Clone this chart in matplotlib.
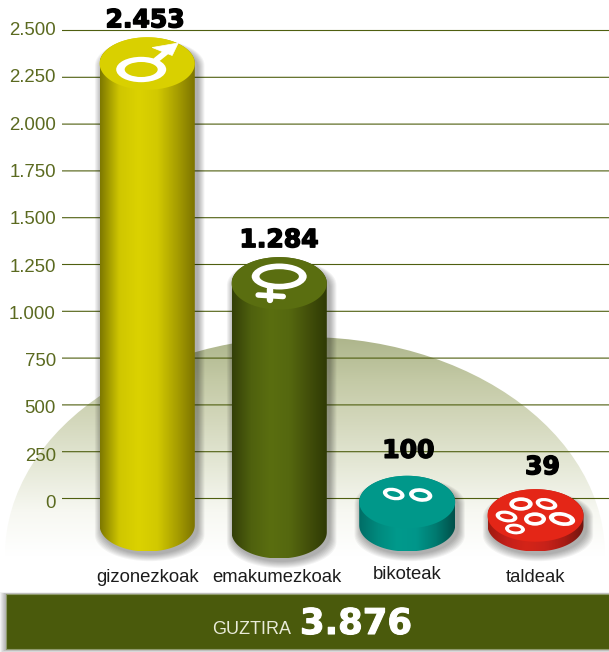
'''
  Bar chart drawn as 3D cylinders, on a faded dome.
'''
import numpy as np
import matplotlib
matplotlib.use("Agg")
import matplotlib.pyplot as plt
import matplotlib.patheffects as pe
from matplotlib.colors import LinearSegmentedColormap
from matplotlib.patches import Ellipse, PathPatch, Rectangle, Polygon
from matplotlib.path import Path
from matplotlib.transforms import Affine2D

categories = ["gizonezkoak", "emakumezkoak", "bikoteak", "taldeak"]
values = [2453, 1284, 100, 39]
yticks = [0, 250, 500, 750, 1000, 1250, 1500, 1750, 2000, 2250, 2500]
total_label = "GUZTIRA"

# layout, in pixels of the picture
W, H = 609, 652
Y0, YTOP = 498.5, 30.5
centers = [147.2, 279.2, 407.2, 535.5]
half_w = [47.6, 47.6, 48, 48]
top_nudge = [-2, -1, -4, -2]
bottoms = [551.5, 558.5, 551.5, 551.5]
cap_h = 52.5
label_x = [145, 279, 408.5, 542.5]
label_gap = [10, 10, 18, 15]
cat_x = [147.5, 276.5, 407, 536]
cat_base = [582, 582, 579, 582]

top_colors = ["#d9d000", "#5a6e10", "#00988a", "#e42617"]
side_colors = [
  ["#7d7800", "#cfc600", "#dbd200", "#d2c900", "#a89f00", "#7a7200"],
  ["#333f08", "#4f610e", "#5a6e10", "#55680f", "#424f0a", "#2e3905"],
  ["#006d66", "#008a7e", "#009a8c", "#00968a", "#007a70", "#00504a"],
  ["#a01a10", "#c4201a", "#d42418", "#c8221a", "#a81c14", "#701510"],
]
grid_color = "#4f5f10"
tick_color = "#5b6a20"

plt.rcParams['font.family'] = ['Liberation Sans', 'DejaVu Sans']


def dotted(v):
  return f"{v:,}".replace(",", ".")


def arc(cx, cy, rx, ry, a0, a1, n=60):
  t = np.linspace(a0, a1, n)
  return np.column_stack([cx + rx * np.cos(t), cy + ry * np.sin(t)])


def ellipse_path(cx, cy, rx, ry):
  return Path(arc(cx, cy, rx, ry, 0, 2 * np.pi, 120), closed=True)


def body_path(cx, rx, top, bottom, ry):
  # top half of the upper ellipse, then the lower half of the bottom one
  up = arc(cx, top + ry, rx, ry, np.pi, 2 * np.pi)
  low = arc(cx, bottom - ry, rx, ry, 0, np.pi)
  return Path(np.vstack([up, low, up[:1]]), closed=True)


def gradient(ax, px, colors, extent, horizontal, clip, zorder):
  cmap = LinearSegmentedColormap.from_list("g", colors)
  ramp = np.linspace(0, 1, 256)
  ramp = ramp[None, :] if horizontal else ramp[:, None]
  im = ax.imshow(ramp, cmap=cmap, extent=extent, origin="lower",
                 aspect="auto", zorder=zorder, interpolation="bilinear")
  im.set_transform(px)
  im.set_clip_path(clip, px)
  return im


def ring(ax, px, x, y, rx, ry, irx, iry, hole, angle=0):
  # white ellipse with a hole in the colour of the cap, strokes are uneven like the original
  ax.add_patch(Ellipse((x, y), 2 * rx, 2 * ry, angle=angle, fc="white", ec="none",
                       transform=px, zorder=6))
  ax.add_patch(Ellipse((x, y), 2 * irx, 2 * iry, angle=angle, fc=hole, ec="none",
                       transform=px, zorder=6.1))


def white_line(ax, px, xs, ys, lw):
  ax.plot(xs, ys, color="white", lw=lw, transform=px, zorder=6,
          solid_capstyle="round")


fig = plt.figure(figsize=(W / 100, H / 100), dpi=100)
ax = fig.add_axes([0, 0, 1, 1])
ax.set_facecolor("white")
for s in ax.spines.values():
  s.set_visible(False)

scale = (Y0 - YTOP) / yticks[-1]
ax.set_xlim(0, W)
ax.set_ylim((Y0 - H) / scale, Y0 / scale)
ax.set_autoscale_on(False)
ax.set_xticks([])

# picture pixels (y going down) to display
px = Affine2D().scale(1, -1).translate(0, H)

# dome
dome = ellipse_path(305, 555, 300, 218)
gradient(ax, px, ["#adb58b", "#c4caa6", "#d5d9be", "#e6e9d8", "#f7f8f2", "#ffffff"],
         (0, W, 337, 556), False, dome, 1)

# grid and ticks
lines = ax.hlines(yticks, 62, W, colors=grid_color, lw=0.8, zorder=1.5)
lines.set_snap(False)
ax.set_yticks(yticks)
ax.set_yticklabels([dotted(v) for v in yticks])
ax.tick_params(axis="y", length=0, pad=-40.3, labelsize=13.4, labelcolor=tick_color)
for v, lab in zip(yticks, ax.get_yticklabels()):
  lab.set_transform(lab.get_transform() + Affine2D().translate(0, -3 + 5 * v / yticks[-1]))

# cylinders
for i, v in enumerate(values):
  cx, rx = centers[i], half_w[i]
  top = H - ax.transData.transform((cx, v))[1] + top_nudge[i]
  bottom = bottoms[i]
  ry = cap_h / 2
  for k in range(1, 9):
    shadow = body_path(cx + 2.5, rx + k * 0.9, top + 5 - k * 0.4, bottom + 2.5 + k * 0.9, ry)
    ax.add_patch(PathPatch(shadow, fc="black", ec="none", alpha=0.045,
                           transform=px, zorder=3))
  gradient(ax, px, side_colors[i], (cx - rx, cx + rx, bottom, top), True,
           body_path(cx, rx, top, bottom, ry), 4)
  ax.add_patch(PathPatch(ellipse_path(cx, top + ry, rx, ry), fc=top_colors[i], ec="none",
                         transform=px, zorder=5))
  ax.text(label_x[i], top - label_gap[i], dotted(v), transform=px, ha="center", va="baseline",
          family="DejaVu Sans", fontweight="bold", fontsize=18, color="black", zorder=7,
          path_effects=[pe.withStroke(linewidth=1.1, foreground="black")])
  ax.text(cat_x[i], cat_base[i], categories[i], transform=px, ha="center", va="baseline",
          fontsize=13.3, color="#1c1c1c", zorder=7)

# male sign
cx = centers[0]
ring(ax, px, cx - 6, 69.5, 25, 12.7, 16.5, 7.5, top_colors[0])
white_line(ax, px, [cx + 9, cx + 24], [60, 48], 4.2)
ax.add_patch(Polygon([[cx + 5, 47.5], [cx + 31, 43], [cx + 25, 55.5]], fc="white", ec="white",
                     lw=0.5, transform=px, zorder=6))
# female sign
cx = centers[1]
ring(ax, px, cx, 276.5, 27.5, 13, 19.7, 7.3, top_colors[1])
white_line(ax, px, [cx - 9, cx - 9], [289, 300], 4.6)
white_line(ax, px, [cx - 21, cx + 4], [295, 296.5], 4.0)

# little rings on the flat cylinders
for dx, y, rx, ry, ang in [(-13.5, 494, 11, 6, 12), (13.5, 495, 11.7, 6.7, 8)]:
  ring(ax, px, centers[2] + dx, y, rx, ry, 0.6 * rx, 0.45 * ry, top_colors[2], ang)
for dx, y, rx, ry, ang in [(-14.5, 504, 11.7, 6.7, 0), (11, 504, 11, 5.7, 12), (-29, 516.5, 11, 5.7, 10),
                           (-0.5, 519, 11, 6.7, 0), (26.5, 519, 13.3, 6.7, 10), (-20.5, 529, 10, 5.3, 5)]:
  ring(ax, px, centers[3] + dx, y, rx, ry, 0.6 * rx, 0.45 * ry, top_colors[3], ang)

# total band
for k in range(1, 7):
  ax.add_patch(Rectangle((6 - k, 594 - k * 0.3), W, 55 + k * 1.1, fc="black", ec="none", alpha=0.05,
                         transform=px, zorder=7))
ax.add_patch(Rectangle((6, 594), W, 55, fc="#4a5a0c", ec="#8f9a6c", lw=0.8, transform=px, zorder=8))
ax.text(212, 634, total_label, transform=px, ha="left", va="baseline", fontsize=13,
        color="#e8ead8", zorder=9)
ax.text(300, 634, dotted(sum(values)), transform=px, ha="left", va="baseline",
        family="DejaVu Sans", fontweight="bold", fontsize=25.5, color="white", zorder=9,
        path_effects=[pe.withStroke(linewidth=0.8, foreground="white")])

fig.savefig("out.png", dpi=100, facecolor="white")
